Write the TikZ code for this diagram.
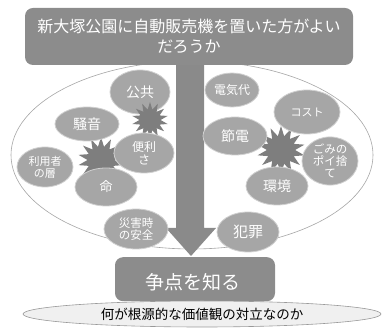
\documentclass[tikz,border=0pt]{standalone}
\usepackage{fontspec}
\setmainfont{Noto Sans CJK JP}
\usetikzlibrary{shapes.geometric}
\definecolor{boxgray}{HTML}{8C8C8C}
\definecolor{ellgray}{HTML}{A6A6A6}
\definecolor{ellline}{HTML}{D0D0D0}
\definecolor{burstgray}{HTML}{7E7E7E}
\definecolor{arrowgray}{HTML}{8A8A8A}
\tikzset{
  topic/.style={ellipse, fill=ellgray, draw=ellline, line width=0.8pt, text=white, align=center, inner sep=0pt, font=\fontsize{12}{13}\selectfont},
  burst/.style={star, star points=14, star point ratio=1.7, fill=burstgray, draw=none, inner sep=0pt},
  headbox/.style={rounded corners=8pt, fill=boxgray, draw=none, text=white, align=center}
}
\begin{document}
\begin{tikzpicture}[x=1pt,y=-1pt]
\useasboundingbox (0,0) rectangle (383,328);
% big ellipse
\node[ellipse, draw=gray!70, line width=0.6pt, fill=white, minimum width=362pt, minimum height=188pt] (big) at (192,155) {};
% arrow
\path[fill=arrowgray] (176,62) -- (204,62) -- (204,228) -- (216,228) -- (191,256) -- (166,228) -- (176,228) -- cycle;
% starbursts behind topics
\node[burst, minimum size=46pt] (b1) at (101,160) {};
\node[burst, minimum size=48pt] (b3) at (281,150) {};
% topics left
\node[topic, minimum width=60pt, minimum height=44pt, font=\fontsize{14}{15}\selectfont] (kokyo) at (140,92) {公共};
\node[burst, minimum size=36pt] (b2) at (150,120) {};
\node[topic, minimum width=64pt, minimum height=34pt, font=\fontsize{14}{15}\selectfont] (soon) at (87,124) {騒音};
\node[topic, minimum width=60pt, minimum height=40pt] (benri) at (144,153) {便利\\さ};
\node[topic, minimum width=56pt, minimum height=40pt, font=\fontsize{11}{12}\selectfont] (riyo) at (45,167) {利用者\\の層};
\node[topic, minimum width=62pt, minimum height=38pt, font=\fontsize{13}{14}\selectfont] (inochi) at (106,187) {命};
\node[topic, minimum width=64pt, minimum height=40pt, font=\fontsize{11.5}{12.5}\selectfont] (saigai) at (136,229) {災害時\\の安全};
% topics right
\node[topic, minimum width=54pt, minimum height=34pt] (denki) at (232,90) {電気代};
\node[topic, minimum width=66pt, minimum height=44pt, font=\fontsize{11}{12}\selectfont] (cost) at (307,112) {コスト};
\node[topic, minimum width=64pt, minimum height=38pt, font=\fontsize{14}{15}\selectfont] (setsuden) at (235,136) {節電};
\node[topic, minimum width=56pt, minimum height=42pt, font=\fontsize{11.5}{12}\selectfont] (gomi) at (330,161) {ごみの\\ポイ捨\\て};
\node[topic, minimum width=62pt, minimum height=38pt, font=\fontsize{14}{15}\selectfont] (kankyo) at (277,186) {環境};
\node[topic, minimum width=62pt, minimum height=40pt, font=\fontsize{15}{16}\selectfont] (hanzai) at (248,232) {犯罪};
% top box
\node[headbox, minimum width=328pt, minimum height=57pt, font=\fontsize{16}{20}\selectfont] (q) at (189,36.5) {新大塚公園に自動販売機を置いた方がよい\\だろうか};
% bottom box
\node[headbox, minimum width=160pt, minimum height=44pt, anchor=north] (sou) at (195,257) {};
\node[text=white, font=\fontsize{19}{20}\selectfont] (soutxt) at (193,282) {争点を知る};
% bottom ellipse
\node[ellipse, fill=gray!12, draw=gray!80, line width=0.6pt, minimum width=358pt, minimum height=26pt, inner sep=0pt, font=\fontsize{13.5}{14}\selectfont] (kachi) at (202,314) {何が根源的な価値観の対立なのか};
\end{tikzpicture}
\end{document}
